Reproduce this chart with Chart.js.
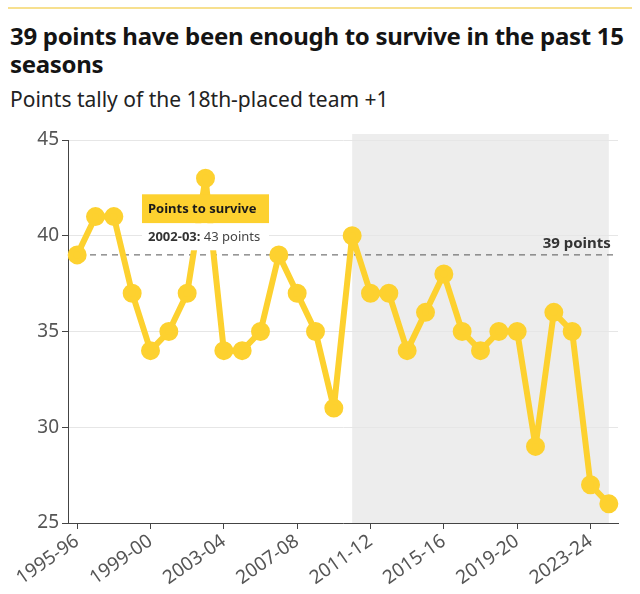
<!DOCTYPE html>
<html>
<head>
<meta charset="utf-8">
<script src="https://cdn.jsdelivr.net/npm/chart.js@4"></script>
<style>
  body { margin: 0; width: 640px; height: 594px; background: #fff; font-family: "Noto Sans", sans-serif; position: relative; overflow: hidden; }
  .rule { position: absolute; left: 8px; right: 8px; top: 7px; height: 2px; background: #f7e08f; }
  h1 { position: absolute; left: 10px; top: 22px; width: 628px; margin: 0; font-size: 24px; line-height: 28px; font-weight: 700; color: #141414; letter-spacing: -0.3px; }
  .sub { position: absolute; left: 10px; top: 85px; margin: 0; font-size: 21px; line-height: 28px; color: #222; }
  .wrap { position: absolute; left: 0; top: 120px; width: 640px; height: 474px; }
</style>
</head>
<body>
<div class="rule"></div>
<h1>39 points have been enough to survive in the past 15 seasons</h1>
<p class="sub">Points tally of the 18th-placed team +1</p>
<div class="wrap"><canvas id="linechart"></canvas></div>
<script>
const seasons = [
  "1995-96", "1996-97", "1997-98", "1998-99", "1999-00", "2000-01",
  "2001-02", "2002-03", "2003-04", "2004-05", "2005-06", "2006-07",
  "2007-08", "2008-09", "2009-10", "2010-11", "2011-12", "2012-13",
  "2013-14", "2014-15", "2015-16", "2016-17", "2017-18", "2018-19",
  "2019-20", "2020-21", "2021-22", "2022-23", "2023-24", "2024-25"
];
const points = [
  39, 41, 41, 37, 34, 35,
  37, 43, 34, 34, 35, 39,
  37, 35, 31, 40, 37, 37,
  34, 36, 38, 35, 34, 35,
  35, 29, 36, 35, 27, 26
];
const tickLabels = ["1995-96", "1999-00", "2003-04", "2007-08", "2011-12", "2015-16", "2019-20", "2023-24"];
const yTicks = [25, 30, 35, 40, 45];
const surviveLine = 39;
const shadeFrom = "2010-11";
const shadeTo = "2024-25";
const highlight = "2002-03";

const yellow = "#fdd12f";

// grey band for the last 15 seasons + dashed 39 line + label
const bands = {
  id: "bands",
  beforeDraw(chart) {
    const { ctx, chartArea, scales } = chart;
    const x0 = scales.x.getPixelForValue(seasons.indexOf(shadeFrom));
    const x1 = scales.x.getPixelForValue(seasons.indexOf(shadeTo));
    ctx.save();
    ctx.fillStyle = "#ededed";
    ctx.fillRect(x0, chartArea.top - 6, x1 - x0, chartArea.bottom - chartArea.top + 6);
    ctx.restore();
  },
  beforeDatasetsDraw(chart) {
    const { ctx, chartArea, scales } = chart;
    const y = scales.y.getPixelForValue(surviveLine);
    ctx.save();
    ctx.strokeStyle = "#555";
    ctx.lineWidth = 1;
    ctx.setLineDash([6, 5]);
    ctx.beginPath();
    ctx.moveTo(chartArea.left, y);
    ctx.lineTo(chartArea.right, y);
    ctx.stroke();
    ctx.setLineDash([]);
    ctx.fillStyle = "#333";
    ctx.font = "bold 15px 'Noto Sans'";
    ctx.textAlign = "right";
    ctx.textBaseline = "bottom";
    const xr = scales.x.getPixelForValue(seasons.length - 1);
    ctx.fillText(surviveLine + " points", xr + 2, y - 4);
    ctx.restore();
  },
  afterDatasetsDraw(chart) {
    const { ctx } = chart;
    const i = seasons.indexOf(highlight);
    const pt = chart.getDatasetMeta(0).data[i];
    const head = "Points to survive";
    ctx.save();
    const w = 127;
    const left = pt.x - w / 2;
    const top = pt.y + 16;
    ctx.fillStyle = yellow;
    ctx.fillRect(left, top, w, 29);
    ctx.fillStyle = "#fff";
    ctx.fillRect(left, top + 29, w, 27);
    ctx.font = "bold 13px 'Noto Sans'";
    ctx.fillStyle = "#1a1a1a";
    ctx.textBaseline = "middle";
    ctx.fillText(head, left + 6, top + 15);
    ctx.fillStyle = "#333";
    const lab = highlight + ":";
    ctx.fillText(lab, left + 6, top + 43);
    const lw = ctx.measureText(lab).width;
    ctx.font = "13px 'Noto Sans'";
    ctx.fillStyle = "#444";
    ctx.fillText(" " + points[i] + " points", left + 6 + lw, top + 43);
    ctx.restore();
  }
};

const ctx = document.getElementById("linechart").getContext("2d");
const linechart = new Chart(ctx, {
  type: "line",
  data: {
    labels: seasons,
    datasets: [
      {
        label: "Points to survive",
        data: points,
        borderColor: yellow,
        backgroundColor: yellow,
        borderWidth: 6,
        borderJoinStyle: "round",
        borderCapStyle: "round",
        pointRadius: 6.5,
        pointHoverRadius: 6.5,
        tension: 0,
      },
    ],
  },
  options: {
    responsive: true,
    maintainAspectRatio: false,
    animation: false,
    events: [],
    layout: { padding: { top: 20, right: 22, left: 0, bottom: 0 } },
    plugins: {
      legend: { display: false },
      tooltip: { enabled: false },
    },
    scales: {
      x: {
        offset: true,
        afterFit(scale) { scale.height = 71; },
        border: { color: "#444", width: 1 },
        grid: {
          drawOnChartArea: false,
          tickLength: 6,
          tickColor: (c) => tickLabels.includes(seasons[c.index]) ? "#444" : "rgba(0,0,0,0)",
        },
        ticks: {
          autoSkip: false,
          maxRotation: 35,
          minRotation: 35,
          color: "#555",
          font: { family: "Noto Sans", size: 19 },
          padding: 1,
          callback: (v, i) => tickLabels.includes(seasons[i]) ? seasons[i] : "",
        },
      },
      y: {
        min: 25,
        max: 45,
        afterFit(scale) { scale.width = 68; },
        afterBuildTicks(scale) { scale.ticks = yTicks.map((v) => ({ value: v })); },
        border: { color: "#444", width: 1 },
        grid: {
          color: "#e6e6e6",
          tickColor: "#444",
          tickLength: 6,
        },
        ticks: {
          color: "#555",
          font: { family: "Noto Sans", size: 19 },
          padding: 3,
        },
      },
    },
  },
  plugins: [bands],
});
</script>
</body>
</html>
